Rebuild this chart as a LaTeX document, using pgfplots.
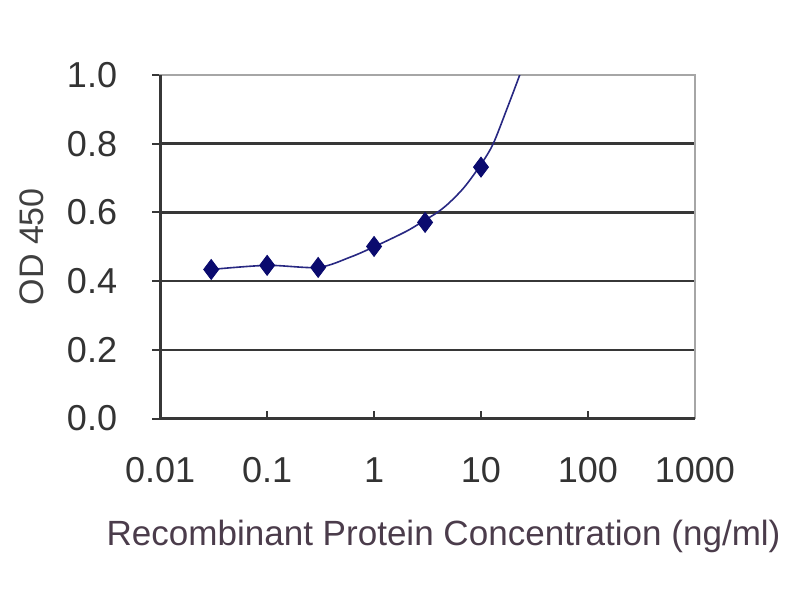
\documentclass[border=0pt]{standalone}
\usepackage{fontspec}
\setmainfont{Liberation Sans}
\usepackage{pgfplots}
\pgfplotsset{compat=1.18}

\definecolor{curvec}{RGB}{40,40,130}
\definecolor{markc}{RGB}{10,10,110}
\definecolor{gridc}{RGB}{55,55,55}
\definecolor{lblc}{RGB}{75,60,75}

\begin{document}
\begin{tikzpicture}
\begin{axis}[
  name=ax,
  scale only axis,
  width=267pt, height=171.5pt,
  xmode=log, log basis x=10,
  xmin=0.01, xmax=1000,
  ymin=0, ymax=1.0,
  xtick={0.01,0.1,1,10,100,1000},
  xticklabels={0.01,0.1,1,10,100,1000},
  ytick={0,0.2,0.4,0.6,0.8,1.0},
  yticklabel style={/pgf/number format/fixed,/pgf/number format/fixed zerofill,/pgf/number format/precision=1},
  /pgf/number format/assume math mode=true,
  ticklabel style={font=\fontsize{18}{18}\selectfont, text=black!80},
  xticklabel style={yshift=-16pt},
  yticklabel style={xshift=-14pt},
  minor tick num=0,
  xtick pos=bottom, ytick pos=left,
  xtick align=inside, ytick align=outside,
  major tick length=4pt,
  tick style={line width=1pt, color=gridc},
  xmajorgrids=false, ymajorgrids=true,
  major grid style={line width=1.3pt, color=gridc},
  axis line style={line width=0.8pt, gray!70},
]
  % fitted curve
  \addplot[curvec, line width=0.8pt, smooth, tension=0.5] coordinates {
    (0.03,0.434) (0.1,0.446) (0.3,0.440) (0.6,0.470) (1,0.500)
    (2,0.545) (3,0.578) (3.9,0.600) (5,0.627) (7,0.674) (10,0.740)
    (13,0.800) (17.4,0.900) (23,1.000) (26,1.05)
  };
  % measured points
  \addplot[only marks, mark=diamond*, mark size=5pt, color=markc] coordinates {
    (0.03,0.434) (0.1,0.446) (0.3,0.440) (1,0.501) (3,0.571) (10,0.732)
  };
\end{axis}
% dark left and bottom axis lines
\draw[line width=1.3pt, gridc] (ax.north west) -- (ax.south west) -- (ax.south east);
\node[rotate=90, font=\fontsize{17}{17}\selectfont, text=black!75] at ([xshift=-64pt]ax.west) {OD 450};
\node[font=\fontsize{17.5}{17.5}\selectfont, text=lblc] at ([xshift=8pt,yshift=-59pt]ax.south) {Recombinant Protein Concentration (ng/ml)};
\path[use as bounding box] ([xshift=-80pt,yshift=-91pt]ax.south west) rectangle ([xshift=52.5pt,yshift=37.5pt]ax.north east);
\end{tikzpicture}
\end{document}
